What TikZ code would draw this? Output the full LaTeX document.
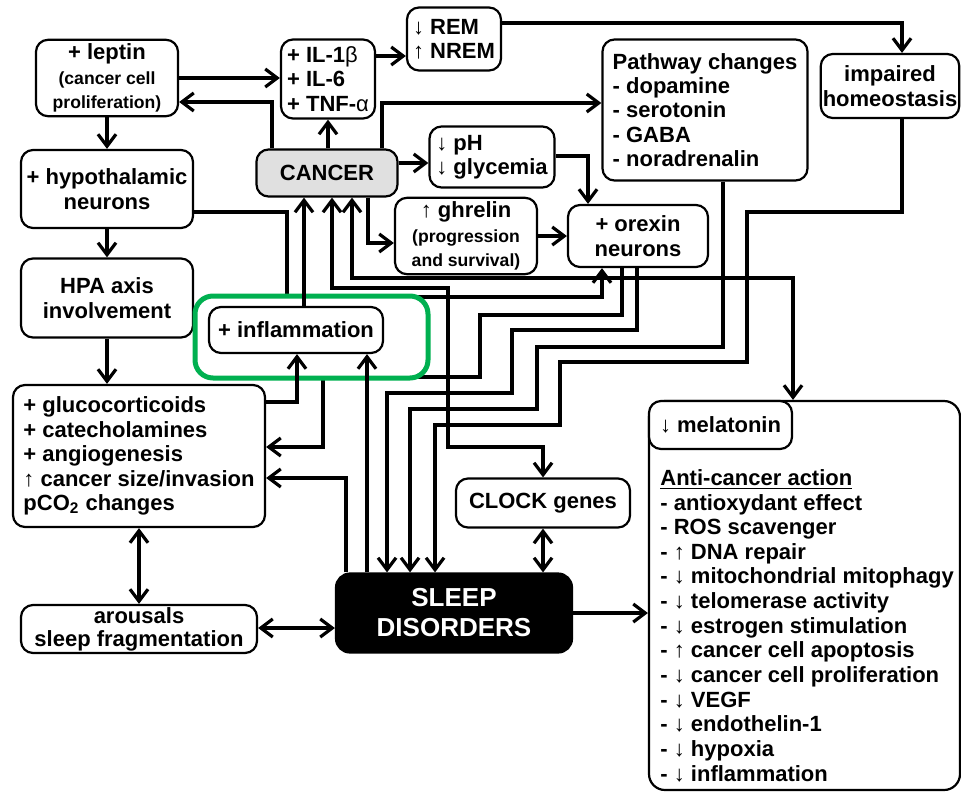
\documentclass[tikz,border=0pt]{standalone}
\usepackage{fontspec}
\setmainfont{Liberation Sans}
\usetikzlibrary{arrows.meta}
\definecolor{hlgreen}{RGB}{0,176,80}
\definecolor{cancergray}{RGB}{224,224,224}
\newcommand{\dn}{{\mdseries ↓}}
\newcommand{\upa}{{\mdseries ↑}}
\newcommand{\smallfont}{\fontsize{8.8}{10}\selectfont}

\begin{document}
\begin{tikzpicture}[x=0.5pt,y=-0.5pt,
  box/.style={rectangle,draw,line width=1.1pt,rounded corners=6pt,fill=white,align=center,inner sep=2pt,
    font=\bfseries\fontsize{11}{12.2}\selectfont},
  arr/.style={line width=1.6pt,-{Straight Barb[length=6pt,width=9pt]}},
  dbl/.style={line width=1.6pt,{Straight Barb[length=6pt,width=9pt]}-{Straight Barb[length=6pt,width=9pt]}}]
\useasboundingbox (0,0) rectangle (961,792);
\clip (0,0) rectangle (961,792);
\path (107,78) node[box,minimum width=71pt,minimum height=35pt] (leptin) {+ leptin\\\smallfont (cancer cell\\\smallfont proliferation)}
(328,79) node[box,align=left,minimum width=47pt,minimum height=39.5pt] (il) {+ IL-1{\mdseries β}\\+ IL-6\\+ TNF-{\mdseries α}}
(454,39) node[box,align=left,minimum width=47pt,minimum height=31.5pt] (rem) {\dn\ REM\\\upa\ NREM}
(705,110) node[box,align=left,minimum width=102.5pt,minimum height=70.5pt] (pathway) {Pathway changes\\- dopamine\\- serotonin\\- GABA\\- noradrenalin}
(890,86) node[box,inner xsep=1pt,minimum width=68pt,minimum height=32pt] (homeo) {impaired\\homeostasis}
(327,173) node[box,fill=cancergray,minimum width=70.5pt,minimum height=23.5pt] (cancer) {CANCER}
(492,157) node[box,align=left,minimum width=62.5pt,minimum height=30.5pt] (ph) {\dn\ pH\\\dn\ glycemia}
(466,236) node[box,minimum width=71pt,minimum height=34pt] (ghrelin) {\upa\ ghrelin\\\smallfont (progression\\\smallfont and survival)}
(638,236) node[box,minimum width=70pt,minimum height=31pt] (orexin) {+ orexin\\neurons}
(107,189) node[box,minimum width=86pt,minimum height=39pt] (hypo) {+ hypothalamic\\neurons}
(107,298) node[box,minimum width=86pt,minimum height=39.5pt] (hpa) {HPA axis\\involvement}
(139,456) node[box,align=left,minimum width=126pt,minimum height=71pt] (gluco) {+ glucocorticoids\\+ catecholamines\\+ angiogenesis\\\upa\ cancer size/invasion\\pCO\textsubscript{2} changes}
(139,629) node[box,inner ysep=0.5pt,minimum width=118pt,minimum height=24pt,font=\bfseries\fontsize{11}{11.5}\selectfont] (arousals) {arousals\\sleep fragmentation}
(543,503) node[box,minimum width=87pt,minimum height=24.5pt] (clock) {CLOCK genes}
(454,613) node[box,fill=black,text=white,rounded corners=7pt,minimum width=118pt,minimum height=39.5pt,font=\bfseries\fontsize{13}{15}\selectfont] (sleep) {SLEEP\\DISORDERS}
(804.5,595.5) node[box,rounded corners=8pt,minimum width=155.5pt,minimum height=194.5pt] (antibox) {};
\path (antibox.north west) node[box,anchor=north west,minimum width=71.5pt,minimum height=24pt] (mel) {\dn\ melatonin}
(660,469) node[anchor=north west,align=left,inner sep=0pt,font=\bfseries\fontsize{11}{12.33}\selectfont] (actions) {\underline{Anti-cancer action}\\- antioxydant effect\\- ROS scavenger\\- \upa\ DNA repair\\- \dn\ mitochondrial mitophagy\\- \dn\ telomerase activity\\- \dn\ estrogen stimulation\\- \upa\ cancer cell apoptosis\\- \dn\ cancer cell proliferation\\- \dn\ VEGF\\- \dn\ endothelin-1\\- \dn\ hypoxia\\- \dn\ inflammation};
% top part
\draw[arr] (leptin.east) -- (leptin.east -| il.west);
\draw[arr] (cancer.north -| 272,0) |- (leptin.east |- 0,102);
\draw[arr] (cancer.north -| il.south) -- (il.south);
\draw[arr] (il.east |- 0,56) -- (rem.west |- 0,56);
\draw[arr] (rem.east |- 0,23) -| (homeo.north -| 902,0);
\draw[arr] (cancer.north -| 382,0) |- (pathway.west |- 0,103);
\draw[arr] (cancer.east |- 0,163) -- (ph.west |- 0,163);
\draw[arr] (ph.east |- 0,156) -| (orexin.north -| 588,0);
\draw[arr] (cancer.south -| 368,0) |- (ghrelin.west |- 0,243);
\draw[arr] (ghrelin.east |- 0,236) -- (orexin.west |- 0,236);
\draw[arr] (leptin.south) -- (hypo.north);
\draw[arr] (hypo.south) -- (hpa.north);
\draw[arr] (hpa.south) -- (hpa.south |- gluco.north);
% lines through the middle
\draw[arr] (hypo.east |- 0,212) -| (287,297) -| (orexin.south -| 602,0);
\draw[arr] (orexin.south -| 622,0) |- (480,315) |- (323,377) |- (gluco.east |- 0,447);
\draw[dbl] (cancer.south -| 332,0) |- (448,288) |- (clock.north |- 0,447) -- (clock.north);
\draw[dbl] (cancer.south -| 352,0) |- (793,278) -- (antibox.north -| 793,0);
\draw[arr] (orexin.south -| 637,0) |- (512,330) |- (387,393) -- (sleep.north -| 387,0);
\draw[arr] (pathway.south -| 723,0) |- (537,347) |- (410,409) -- (sleep.north -| 410,0);
\draw[arr] (homeo.south -| 902,0) |- (747,212) |- (560,362) |- (435,425) -- (sleep.north -| 435,0);
\draw[arr] (sleep.north -| 346,0) |- (gluco.east |- 0,478);
% bottom part
\draw[dbl] (clock.south) -- (sleep.north -| clock.south);
\draw[dbl] (gluco.south) -- (arousals.north);
\draw[dbl] (arousals.east |- 0,628) -- (sleep.west |- 0,628);
\draw[arr] (sleep.east) -- (sleep.east -| antibox.west);
% highlight
\draw[hlgreen,line width=2.5pt,rounded corners=9pt,fill=white] (195,296) rectangle (428,378);
\path (296,330) node[box,minimum width=87pt,minimum height=23pt] (inflam) {+ inflammation};
\draw[arr] (gluco.east |- 0,402) -| (inflam.south -| 297,0);
\draw[arr] (sleep.north -| 367,0) -- (inflam.south -| 367,0);
\draw[arr] (inflam.north -| 304,0) -- (cancer.south -| 304,0);
\end{tikzpicture}
\end{document}
